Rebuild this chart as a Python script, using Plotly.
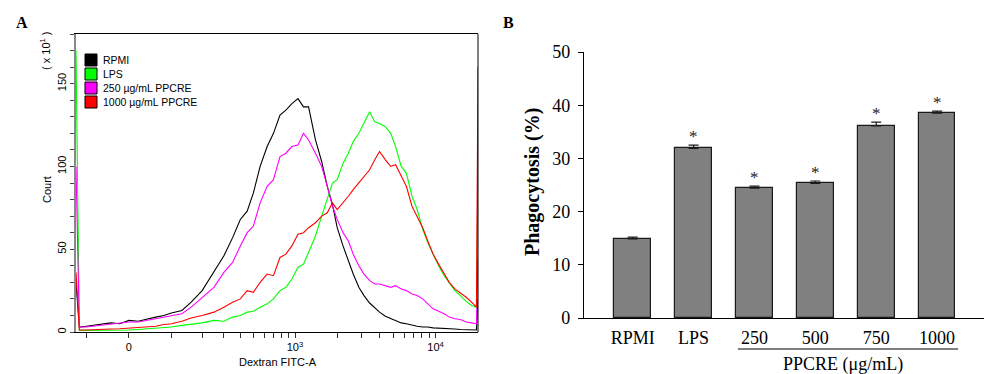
import numpy as np
import plotly.graph_objects as go

# ---------------- Panel A : flow cytometry histogram ----------------
fitc = [-130, -120, -100, -80, -60, -40, -20, 0, 20, 40, 60, 80, 100, 130, 160,
        200, 250, 300, 350, 400, 450, 500, 560, 630, 700, 780, 860, 950, 1050,
        1150, 1250, 1400, 1550, 1700, 1850, 2000, 2200, 2400, 2600, 2850, 3100,
        3400, 3700, 4000, 4400, 4800, 5200, 5700, 6200, 6800, 7400, 8100, 8800,
        9600, 10500, 11500, 12500, 13700, 15000, 16500, 18000, 19500, 20000]

count_rpmi = [30, 3, 3.5, 4, 4.5, 5.5, 5, 7, 6.5, 8, 9, 10, 11.5, 13, 18,
              25, 36, 46, 57, 68, 73, 84, 100, 112, 120, 131, 134, 138, 141,
              136, 136, 116, 103, 88, 77, 63, 52, 43, 35, 27, 22,
              17.5, 14.5, 12, 9.5, 8, 7, 5.5, 5, 4, 3.5, 3, 3,
              2.5, 2.4, 2, 2, 1.8, 1.5, 1.5, 1.2, 1.2, 20]

count_lps = [170, 1, 1, 1, 1, 1.2, 1, 1.2, 1.5, 2, 2.4, 2.5, 3, 4, 4.5,
             5.5, 7, 6.5, 9, 10, 12, 12.5, 15, 17, 20, 25, 27, 32, 39,
             41, 48, 58, 70, 80, 90, 92, 102, 108, 115, 120, 126,
             133, 127, 126, 124, 120, 112, 100, 96, 82, 74, 62, 54,
             47, 40, 34, 30, 25, 22, 18.5, 16, 15, 100]

count_250 = [100, 3, 3, 3.5, 4, 4.5, 5, 6, 6, 7, 8, 9, 10, 11, 15,
             21, 27, 36, 42, 52, 60, 64, 78, 88, 92, 106, 108, 112, 113,
             120, 116, 108, 100, 88, 76, 68, 60, 55, 47, 40, 35,
             31, 29, 29, 28, 27, 28, 26, 25, 23, 22, 20, 17,
             14, 12.5, 11, 9, 8, 7.5, 6, 5.5, 5, 45]

count_1000 = [36, 1.2, 1.2, 1.5, 1.5, 1.8, 2, 2.4, 2.5, 3, 3.5, 4.5, 5, 6.5, 8.5,
              10, 12, 15, 18, 20, 25, 24, 30, 35, 34, 45, 47, 52, 59,
              60, 63, 66, 70, 72, 78, 74, 78, 82, 86, 90, 94,
              98, 104, 109, 104, 100, 101, 94, 88, 76, 70, 63, 55,
              47, 41, 35, 30, 26, 23.6, 21, 18, 15, 160]

series_names = ["RPMI", "LPS", "250 µg/mL PPCRE", "1000 µg/mL PPCRE"]
series_values = [count_rpmi, count_lps, count_250, count_1000]
series_colors = ["#000000", "#00ff00", "#ff00ff", "#ff0000"]

major_fitc = [0, 1000, 10000]
major_fitc_text = ["0", "10<sup>3</sup>", "10<sup>4</sup>"]
minor_fitc = [-100, 100, 200, 300, 400, 500, 600, 700, 800, 900,
              2000, 3000, 4000, 5000, 6000, 7000, 8000, 9000]
fitc_range = [-130, 20000]

# ---------------- Panel B : phagocytosis bars ----------------
groups = ["RPMI", "LPS", "250", "500", "750", "1000"]
phago = [14.85, 31.9, 24.4, 25.3, 36.1, 38.5]
phago_err = [0.35, 0.6, 0.4, 0.45, 0.7, 0.4]
signif = ["", "*", "*", "*", "*", "*"]

W = 133.0


def T(v):
    return np.arcsinh(np.asarray(v, dtype=float) / W)


FW, FH = 984, 374


def px(x):
    return x / FW


def py(y):
    return 1 - y / FH


fig = go.Figure()

for name, vals, col in zip(series_names, series_values, series_colors):
    fig.add_trace(go.Scatter(
        x=T(fitc), y=vals, mode="lines", name=name,
        line=dict(color=col, width=1.1), showlegend=False,
        xaxis="x", yaxis="y", hoverinfo="skip"))

fig.add_trace(go.Bar(
    x=groups, y=phago, width=0.6, xaxis="x2", yaxis="y2", showlegend=False,
    marker=dict(color="#808080", line=dict(color="#1a1a1a", width=1.2)),
    error_y=dict(type="data", array=phago_err, arrayminus=[0] * len(phago),
                 symmetric=False, color="#1a1a1a", thickness=1.2, width=5)))

sansA = "Liberation Sans, Arial, sans-serif"
serifB = "Liberation Serif, Times New Roman, serif"

annotations = []
shapes = []


def label(x, y, text, font, angle=0, xanchor="center"):
    return dict(xref="paper", yref="paper", x=px(x), y=py(y), text=text,
                xanchor=xanchor, yanchor="middle", textangle=angle,
                showarrow=False, font=font)


# legend of panel A (manual boxes)
for i, (name, col) in enumerate(zip(series_names, series_colors)):
    yc = 60 + i * 14
    shapes.append(dict(type="rect", xref="paper", yref="paper",
                       x0=px(85), x1=px(97), y0=py(yc - 6), y1=py(yc + 6),
                       fillcolor=col, line=dict(color="#000000", width=1)))
    annotations.append(label(101, yc, name, dict(family=sansA, size=10.5, color="#000"),
                             xanchor="left"))

# right frame line of panel A
shapes.append(dict(type="line", xref="x domain", yref="y domain",
                   x0=1, x1=1, y0=0, y1=1, line=dict(color="#000", width=1)))

# underline for PPCRE group
shapes.append(dict(type="line", xref="paper", yref="paper",
                   x0=px(738), x1=px(958), y0=py(349), y1=py(349),
                   line=dict(color="#000", width=1)))

annotations += [
    label(22, 22, "<b>A</b>", dict(family=serifB, size=16, color="#000")),
    label(508, 22, "<b>B</b>", dict(family=serifB, size=16, color="#000")),
    label(45, 51, "( x 10<sup>1</sup> )", dict(family=sansA, size=11, color="#000"), angle=-90),
    label(47, 190, "Court", dict(family=sansA, size=11, color="#000"), angle=-90),
    label(278, 362, "Dextran FITC-A", dict(family=sansA, size=11, color="#000")),
    label(533, 182, "<b>Phagocytosis (%)</b>", dict(family=serifB, size=20, color="#000"), angle=-90),
    label(843, 364, "PPCRE (μg/mL)", dict(family=serifB, size=18, color="#000")),
]

for i, (v, e, s) in enumerate(zip(phago, phago_err, signif)):
    if s:
        annotations.append(dict(xref="x2", yref="y2", x=i, y=v + e, text=s,
                                xanchor="center", yanchor="bottom", yshift=-3,
                                showarrow=False,
                                font=dict(family=serifB, size=17, color="#222")))

fig.update_layout(
    width=FW, height=FH, margin=dict(l=0, r=0, t=0, b=0, autoexpand=False),
    paper_bgcolor="white", plot_bgcolor="white",
    showlegend=False, bargap=0,
    xaxis=dict(domain=[px(76), px(478)], range=list(T(fitc_range)),
               tickmode="array", tickvals=list(T(major_fitc)), ticktext=major_fitc_text,
               ticks="outside", ticklen=5, tickcolor="#333", showgrid=False, zeroline=False,
               showline=True, linecolor="#000", linewidth=1, mirror=True,
               tickfont=dict(family=sansA, size=11, color="#000"),
               minor=dict(tickmode="array", tickvals=list(T(minor_fitc)),
                          ticks="outside", ticklen=5, tickcolor="#333"),
               automargin=False, anchor="y"),
    yaxis=dict(domain=[py(332), py(34)], range=[0, 180],
               tickmode="array", tickvals=[0, 50, 100, 150],
               ticks="outside", ticklen=4, tickcolor="#444", tickangle=-90,
               showgrid=False, zeroline=False,
               showline=True, linecolor="#888", linewidth=1.5,
               tickfont=dict(family=sansA, size=11, color="#000"),
               minor=dict(dtick=10, tick0=0, ticks="outside", ticklen=4, tickcolor="#444"),
               automargin=False, anchor="x"),
    xaxis2=dict(domain=[px(584), 1.0], type="category", range=[-0.8, 5.77],
                ticks="", showgrid=False, zeroline=False,
                showline=True, linecolor="#000", linewidth=1.2,
                tickfont=dict(family=serifB, size=18, color="#000"),
                ticklabelstandoff=3, automargin=False, anchor="y2"),
    yaxis2=dict(domain=[py(318), py(52)], range=[0, 50],
                tickmode="array", tickvals=[0, 10, 20, 30, 40, 50],
                ticks="outside", ticklen=5, tickcolor="#000",
                showgrid=False, zeroline=False,
                showline=True, linecolor="#000", linewidth=1.2,
                tickfont=dict(family=serifB, size=18, color="#000"),
                ticklabelstandoff=4, automargin=False, anchor="x2"),
    annotations=annotations, shapes=shapes,
)

fig.write_html("out.html")
